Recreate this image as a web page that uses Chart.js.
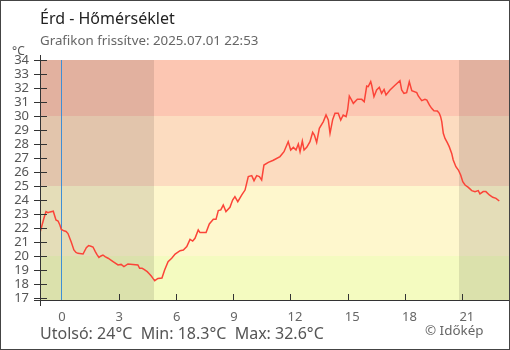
<!DOCTYPE html>
<html lang="hu">
<head>
<meta charset="utf-8">
<title>Érd - Hőmérséklet</title>
<script src="https://cdn.jsdelivr.net/npm/chart.js@4.4.1/dist/chart.umd.min.js"></script>
<style>
    body { margin: 0; background: #fff; }
    #wrap { position: relative; width: 510px; height: 350px; font-family: 'Noto Sans', 'Open Sans', sans-serif; }
    #wrap canvas { position: absolute; left: 0; top: 0; }
    .txt { position: absolute; white-space: pre; line-height: 1; }
    #frame { position: absolute; left: 0; top: 0; width: 510px; height: 350px; box-sizing: border-box; border: 1px solid #444; pointer-events: none; }
</style>
</head>
<body>
<div id="wrap">
    <canvas id="tempChart" width="510" height="350"></canvas>
    <div class="txt" style="left:40px; top:10px; font-size:16px; color:#222;">Érd - Hőmérséklet</div>
    <div class="txt" style="left:40px; top:34px; font-size:13.3px; color:#666;">Grafikon frissítve: 2025.07.01 22:53</div>
    <div class="txt" style="left:12px; top:45px; font-size:12px; color:#555;">°C</div>
    <div class="txt" style="left:40px; top:325px; font-size:16px; color:#555;">Utolsó: 24°C  Min: 18.3°C  Max: 32.6°C</div>
    <div class="txt" style="left:425px; top:324px; font-size:13.4px; color:#666;">© Időkép</div>
    <div id="frame"></div>
</div>
<script>
// Órák (0 = éjfél, negatív = előző nap)
const hours = [
    -1.12, -1.01, -0.91, -0.80, -0.70, -0.59, -0.42, -0.28, -0.17, -0.07,
    0.00, 0.14, 0.25, 0.35, 0.52, 0.66, 0.77, 0.87, 1.14, 1.31,
    1.43, 1.55, 1.66, 1.78, 1.87, 1.97, 2.08, 2.18, 2.29, 2.45,
    2.71, 2.97, 3.13, 3.28, 3.49, 3.75, 4.01, 4.10, 4.23, 4.33,
    4.50, 4.59, 4.71, 4.80, 4.89, 5.06, 5.27, 5.41, 5.59, 5.78,
    5.96, 6.22, 6.39, 6.57, 6.74, 6.88, 7.00, 7.17, 7.26, 7.58,
    7.75, 7.96, 8.10, 8.22, 8.35, 8.48, 8.62, 8.83, 8.97, 9.09,
    9.24, 9.45, 9.62, 9.79, 9.97, 10.09, 10.23, 10.37, 10.49, 10.61,
    10.84, 11.10, 11.45, 11.66, 11.88, 12.01, 12.15, 12.29, 12.41, 12.50,
    12.62, 12.71, 12.85, 13.02, 13.16, 13.25, 13.37, 13.51, 13.72, 13.86,
    13.98, 14.07, 14.21, 14.33, 14.50, 14.63, 14.76, 14.91, 14.99, 15.08,
    15.20, 15.29, 15.50, 15.73, 15.86, 15.99, 16.07, 16.20, 16.25, 16.37,
    16.51, 16.65, 16.77, 16.90, 17.00, 17.21, 17.47, 17.73, 17.82, 17.94,
    18.08, 18.22, 18.35, 18.61, 18.69, 18.87, 19.04, 19.14, 19.27, 19.39,
    19.51, 19.69, 19.79, 19.86, 19.92, 20.00, 20.09, 20.21, 20.31, 20.44,
    20.52, 20.66, 20.79, 20.91, 21.02, 21.14, 21.31, 21.49, 21.66, 21.83,
    21.92, 22.09, 22.23, 22.41, 22.59, 22.76, 22.93
];

// Hőmérséklet (°C)
const temps = [
    21.64, 22.2, 22.7, 23.17, 23.1, 23.15, 23.2, 22.57, 22.5, 22.2,
    21.9, 21.8, 21.75, 21.6, 21.0, 20.43, 20.25, 20.19, 20.14, 20.6,
    20.74, 20.7, 20.64, 20.31, 20.1, 19.9, 20.0, 20.07, 19.95, 19.84,
    19.6, 19.36, 19.4, 19.24, 19.43, 19.4, 19.36, 19.12, 19.12, 19.05,
    18.88, 18.75, 18.57, 18.4, 18.24, 18.4, 18.43, 19.0, 19.6, 19.84,
    20.14, 20.38, 20.43, 20.67, 21.19, 21.07, 21.26, 21.86, 21.67, 21.67,
    22.29, 22.62, 22.62, 23.24, 23.29, 23.64, 23.17, 23.48, 24.0, 24.24,
    23.88, 24.36, 24.71, 25.67, 25.74, 25.38, 25.74, 25.67, 25.43, 26.5,
    26.69, 26.84, 27.1, 27.45, 28.17, 27.57, 27.76, 27.57, 28.0, 27.45,
    28.21, 27.57, 27.76, 28.17, 28.83, 28.64, 28.12, 29.12, 29.6, 30.07,
    29.71, 28.76, 29.76, 30.19, 30.19, 29.71, 30.07, 29.95, 30.43, 31.43,
    31.14, 30.9, 31.19, 31.19, 31.02, 32.14, 32.1, 32.45, 32.2, 31.38,
    31.86, 32.05, 31.62, 31.9, 31.5, 31.86, 32.2, 32.52, 31.86, 31.62,
    31.67, 32.45, 31.81, 31.67, 31.43, 31.1, 31.19, 31.14, 30.79, 30.55,
    30.38, 30.36, 30.19, 29.95, 29.6, 28.76, 28.4, 28.1, 27.81, 27.33,
    26.86, 26.38, 26.14, 25.79, 25.31, 25.07, 24.9, 24.67, 24.6, 24.67,
    24.43, 24.6, 24.6, 24.36, 24.19, 24.12, 23.93
];

// Tengelyek
const xTicks = [0, 3, 6, 9, 12, 15, 18, 21];
const yTicks = [17, 18, 19, 20, 21, 22, 23, 24, 25, 26, 27, 28, 29, 30, 31, 32, 33, 34];
const xMin = -1.115, xMax = 23.44;
const yMin = 16.857, yMax = 34;

// Hőmérsékleti sávok és éjszakai időszakok
const bandLimits = [16, 20, 25, 30, 34];
const bandColors = ['#f4fbc0', '#fef7cd', '#fcdcc0', '#fcc6b2'];
const nightRanges = [[-1.2, 4.85], [20.82, 24]];
const midnight = 0;

Chart.defaults.font.family = "'Noto Sans', 'Open Sans', sans-serif";

/* ==========================
   Háttér, tengelyvonalak, osztások
========================== */
const decorPlugin = {
    id: 'decor',
    beforeDatasetsDraw(chart) {
        const { ctx, chartArea: a, scales: { x, y } } = chart;
        ctx.save();
        ctx.beginPath();
        ctx.rect(a.left, a.top, a.right - a.left, a.bottom - a.top);
        ctx.clip();

        // sávok
        for (let i = 0; i < bandColors.length; i++) {
            const top = y.getPixelForValue(bandLimits[i + 1]);
            const bottom = y.getPixelForValue(bandLimits[i]);
            ctx.fillStyle = bandColors[i];
            ctx.fillRect(a.left, top, a.right - a.left, bottom - top);
        }

        // éjszaka
        ctx.fillStyle = 'rgba(0, 0, 0, 0.1)';
        nightRanges.forEach(([from, to]) => {
            const l = Math.round(x.getPixelForValue(from));
            const r = Math.round(x.getPixelForValue(to));
            ctx.fillRect(l, a.top, r - l, a.bottom - a.top);
        });

        // éjfél
        const mx = Math.round(x.getPixelForValue(midnight)) + 0.5;
        ctx.strokeStyle = '#3f8fd5';
        ctx.lineWidth = 1;
        ctx.beginPath();
        ctx.moveTo(mx, a.top);
        ctx.lineTo(mx, a.bottom);
        ctx.stroke();
        ctx.restore();
    },
    afterDatasetsDraw(chart) {
        const { ctx, chartArea: a, scales: { x, y } } = chart;
        ctx.save();
        ctx.strokeStyle = '#333';
        ctx.lineWidth = 1;
        ctx.beginPath();
        const ax = a.left + 0.5;
        const ay = a.bottom + 0.5;
        // y tengely
        ctx.moveTo(ax, a.top - 5);
        ctx.lineTo(ax, a.bottom + 6);
        // x tengely
        ctx.moveTo(a.left - 6, ay);
        ctx.lineTo(a.right, ay);
        // y osztások
        yTicks.forEach(v => {
            const py = Math.round(y.getPixelForValue(v)) + 0.5;
            ctx.moveTo(a.left - 6, py);
            ctx.lineTo(a.left + 7, py);
        });
        // x osztások
        xTicks.forEach(v => {
            if (v === midnight) return;
            const px = Math.round(x.getPixelForValue(v)) + 0.5;
            ctx.moveTo(px, a.bottom - 6);
            ctx.lineTo(px, a.bottom);
        });
        ctx.stroke();
        ctx.restore();
    }
};

const ctx = document.getElementById('tempChart').getContext('2d');
new Chart(ctx, {
    type: 'line',
    data: {
        datasets: [{
            data: hours.map((h, i) => ({ x: h, y: temps[i] })),
            borderColor: '#fb4438',
            borderWidth: 1.5,
            pointRadius: 0,
            tension: 0
        }]
    },
    options: {
        responsive: false,
        animation: false,
        layout: { padding: { top: 60, right: 1, left: 0, bottom: 0 } },
        plugins: {
            legend: { display: false },
            tooltip: { enabled: false }
        },
        scales: {
            x: {
                type: 'linear',
                min: xMin,
                max: xMax,
                afterBuildTicks: s => { s.ticks = xTicks.map(v => ({ value: v })); },
                afterFit: s => { s.height = 50; },
                grid: { display: false, drawTicks: false },
                border: { display: false },
                ticks: {
                    color: '#666',
                    font: { size: 13 },
                    padding: 9,
                    align: 'start',
                    labelOffset: -3,
                    maxRotation: 0,
                    autoSkip: false
                }
            },
            y: {
                type: 'linear',
                min: yMin,
                max: yMax,
                afterBuildTicks: s => { s.ticks = yTicks.map(v => ({ value: v })); },
                afterFit: s => { s.width = 40; },
                grid: { display: false, drawTicks: false },
                border: { display: false },
                ticks: {
                    color: '#555',
                    font: { size: 13 },
                    padding: 11,
                    autoSkip: false
                }
            }
        }
    },
    plugins: [decorPlugin]
});
</script>
</body>
</html>
